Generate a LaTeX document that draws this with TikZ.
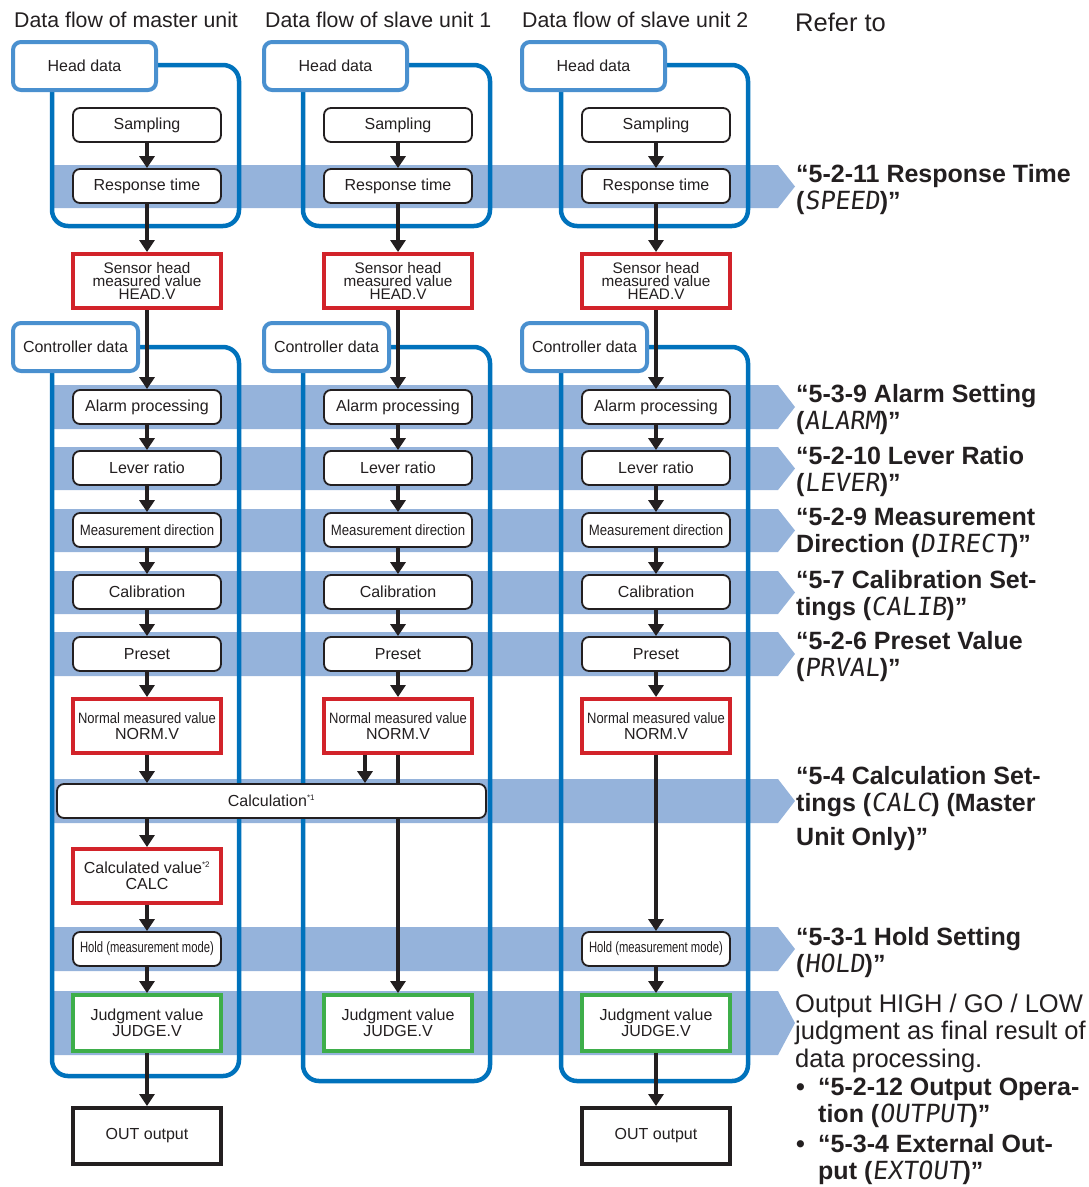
\documentclass[tikz,border=0pt]{standalone}
\usepackage{fontspec}
\setmainfont{Liberation Sans}
\newfontfamily\segfont{DejaVu Sans Mono}[FakeSlant=0.12]
\usepackage{graphicx}
\usetikzlibrary{arrows.meta,positioning,calc}
\definecolor{bandblue}{HTML}{95B3DB}
\definecolor{boxblue}{HTML}{0072BC}
\definecolor{tagblue}{HTML}{4A90CF}
\definecolor{valred}{HTML}{D2232A}
\definecolor{judgegreen}{HTML}{3EAE4A}
\definecolor{ink}{HTML}{231F20}
\newcommand{\seg}[1]{{\segfont\mdseries #1}}
\newcommand{\narrow}[2]{\scalebox{#1}[1]{#2}}
\newcommand{\refband}[2]{\fill[bandblue] (50,#1) -- (778,#1) -- (795,{(#1+#2)/2}) -- (778,#2) -- (50,#2) -- cycle;}

\begin{document}
\begin{tikzpicture}[
  x=1pt, y=-1pt, text=ink,
  font=\fontsize{16}{18}\selectfont,
  stepbox/.style={draw=ink, line width=1.8pt, rounded corners=7pt, fill=white, minimum width=148pt, minimum height=34pt, align=center, inner sep=0pt},
  valbox/.style={draw=valred, line width=4pt, fill=white, minimum width=148pt, minimum height=54pt, align=center, inner sep=0pt, font=\fontsize{15.3}{13}\selectfont},
  judgebox/.style={valbox, draw=judgegreen, minimum height=56pt},
  outbox/.style={valbox, draw=ink, minimum height=56pt, font=\fontsize{16}{18}\selectfont},
  tag/.style={draw=tagblue, line width=4pt, rounded corners=8pt, fill=white, minimum width=143pt, minimum height=48pt, inner sep=0pt},
  group/.style={draw=boxblue, line width=4.5pt, rounded corners=16pt},
  arr/.style={-{Triangle[length=12pt, width=15pt]}, line width=3.5pt, draw=ink},
  title/.style={anchor=west, inner sep=0pt, font=\fontsize{21.3}{24}\selectfont},
  ref/.style={anchor=base west, inner sep=0pt, align=left, font=\bfseries\fontsize{25}{27}\selectfont},
  smalltxt/.style={font=\fontsize{15}{16}\selectfont},
]
  \useasboundingbox (0,0) rectangle (1088,1187);

  % Titles
  \node[title] (tmaster) at (14,20) {Data flow of master unit};
  \node[title] (tslave1) at (265,20) {Data flow of slave unit 1};
  \node[title] (tslave2) at (522,20) {Data flow of slave unit 2};
  \node[title, font=\fontsize{25.5}{28}\selectfont] (trefer) at (795,22) {Refer to};

  % Bands
  \refband{165}{208}
  \refband{385}{429}
  \refband{447}{490}
  \refband{509}{552}
  \refband{571}{614}
  \refband{632}{676}
  \refband{779}{823}
  \refband{927}{971}
  \refband{991}{1055}

  % Groups
  \draw[group] (52,65) rectangle (239,226);
  \draw[group] (303,65) rectangle (490,226);
  \draw[group] (561,65) rectangle (748,226);
  \draw[group] (52,347) rectangle (239,1076);
  \draw[group] (303,347) rectangle (490,1081);
  \draw[group] (561,347) rectangle (748,1081);
  \node[tag] (mheadtag) at (84.5,66) {Head data};
  \node[tag] (s1headtag) at (335.5,66) {Head data};
  \node[tag] (s2headtag) at (593.5,66) {Head data};
  \node[tag, minimum width=125pt] (mctrltag) at (75.5,347) {Controller data};
  \node[tag, minimum width=125pt] (s1ctrltag) at (326.5,347) {Controller data};
  \node[tag, minimum width=125pt] (s2ctrltag) at (584.5,347) {Controller data};

  % Master unit
  \node[stepbox] (msamp) at (147,125) {Sampling};
  \node[stepbox] (mresp) at (147,186) {Response time};
  \node[valbox] (mhead) at (147,281) {Sensor head\\measured value\\HEAD.V};
  \node[stepbox] (malarm) at (147,407) {Alarm processing};
  \node[stepbox] (mlever) at (147,468) {Lever ratio};
  \node[stepbox, smalltxt] (mdir) at (147,530) {\narrow{0.88}{Measurement direction}};
  \node[stepbox] (mcalib) at (147,592) {Calibration};
  \node[stepbox] (mpreset) at (147,654) {Preset};
  \node[valbox, font=\fontsize{16}{16}\selectfont] (mnorm) at (147,726) {{\fontsize{15}{16}\selectfont\narrow{0.865}{Normal measured value}}\\NORM.V};
  \node[stepbox, minimum width=429pt] (calc) at (271.5,801) {Calculation\textsuperscript{\fontsize{8}{8}\selectfont *1}};
  \node[valbox, font=\fontsize{16}{16}\selectfont] (mcalcv) at (147,876) {Calculated value\textsuperscript{\fontsize{8}{8}\selectfont *2}\\CALC};
  \node[stepbox, smalltxt] (mhold) at (147,949) {\narrow{0.75}{Hold (measurement mode)}};
  \node[judgebox, font=\fontsize{16}{16}\selectfont] (mjudge) at (147,1023) {Judgment value\\JUDGE.V};
  \node[outbox] (mout) at (147,1136) {OUT output};

  % Slave unit 1
  \node[stepbox] (s1samp) at (398,125) {Sampling};
  \node[stepbox] (s1resp) at (398,186) {Response time};
  \node[valbox] (s1head) at (398,281) {Sensor head\\measured value\\HEAD.V};
  \node[stepbox] (s1alarm) at (398,407) {Alarm processing};
  \node[stepbox] (s1lever) at (398,468) {Lever ratio};
  \node[stepbox, smalltxt] (s1dir) at (398,530) {\narrow{0.88}{Measurement direction}};
  \node[stepbox] (s1calib) at (398,592) {Calibration};
  \node[stepbox] (s1preset) at (398,654) {Preset};
  \node[valbox, font=\fontsize{16}{16}\selectfont] (s1norm) at (398,726) {{\fontsize{15}{16}\selectfont\narrow{0.865}{Normal measured value}}\\NORM.V};
  \node[judgebox, font=\fontsize{16}{16}\selectfont] (s1judge) at (398,1023) {Judgment value\\JUDGE.V};

  % Slave unit 2
  \node[stepbox] (s2samp) at (656,125) {Sampling};
  \node[stepbox] (s2resp) at (656,186) {Response time};
  \node[valbox] (s2head) at (656,281) {Sensor head\\measured value\\HEAD.V};
  \node[stepbox] (s2alarm) at (656,407) {Alarm processing};
  \node[stepbox] (s2lever) at (656,468) {Lever ratio};
  \node[stepbox, smalltxt] (s2dir) at (656,530) {\narrow{0.88}{Measurement direction}};
  \node[stepbox] (s2calib) at (656,592) {Calibration};
  \node[stepbox] (s2preset) at (656,654) {Preset};
  \node[valbox, font=\fontsize{16}{16}\selectfont] (s2norm) at (656,726) {{\fontsize{15}{16}\selectfont\narrow{0.865}{Normal measured value}}\\NORM.V};
  \node[stepbox, smalltxt] (s2hold) at (656,949) {\narrow{0.75}{Hold (measurement mode)}};
  \node[judgebox, font=\fontsize{16}{16}\selectfont] (s2judge) at (656,1023) {Judgment value\\JUDGE.V};
  \node[outbox] (s2out) at (656,1136) {OUT output};

  % Edges
  \draw[arr] (msamp) -- (mresp);
  \draw[arr] (mresp) -- (mhead);
  \draw[arr] (mhead) -- (malarm);
  \draw[arr] (malarm) -- (mlever);
  \draw[arr] (mlever) -- (mdir);
  \draw[arr] (mdir) -- (mcalib);
  \draw[arr] (mcalib) -- (mpreset);
  \draw[arr] (mpreset) -- (mnorm);
  \draw[arr] (mnorm) -- (mnorm |- calc.north);
  \draw[arr] (mnorm |- calc.south) -- (mcalcv);
  \draw[arr] (mcalcv) -- (mhold);
  \draw[arr] (mhold) -- (mjudge);
  \draw[arr] (mjudge) -- (mout);

  \draw[arr] (s1samp) -- (s1resp);
  \draw[arr] (s1resp) -- (s1head);
  \draw[arr] (s1head) -- (s1alarm);
  \draw[arr] (s1alarm) -- (s1lever);
  \draw[arr] (s1lever) -- (s1dir);
  \draw[arr] (s1dir) -- (s1calib);
  \draw[arr] (s1calib) -- (s1preset);
  \draw[arr] (s1preset) -- (s1norm);
  \draw[arr] ([xshift=-33pt]s1norm.south) -- ([xshift=-33pt]s1norm.south |- calc.north);
  \draw[line width=3.5pt, ink] (s1norm.south) -- (s1norm.south |- calc.north);
  \draw[arr] (s1norm.south |- calc.south) -- (s1judge);

  \draw[arr] (s2samp) -- (s2resp);
  \draw[arr] (s2resp) -- (s2head);
  \draw[arr] (s2head) -- (s2alarm);
  \draw[arr] (s2alarm) -- (s2lever);
  \draw[arr] (s2lever) -- (s2dir);
  \draw[arr] (s2dir) -- (s2calib);
  \draw[arr] (s2calib) -- (s2preset);
  \draw[arr] (s2preset) -- (s2norm);
  \draw[arr] (s2norm) -- (s2hold);
  \draw[arr] (s2hold) -- (s2judge);
  \draw[arr] (s2judge) -- (s2out);

  % References (anchored at the last line)
  \node[ref] (rresp) at (796,209) {“5-2-11 Response Time\\(\seg{SPEED})”};
  \node[ref] (ralarm) at (796,429) {“5-3-9 Alarm Setting\\(\seg{ALARM})”};
  \node[ref] (rlever) at (796,491) {“5-2-10 Lever Ratio\\(\seg{LEVER})”};
  \node[ref] (rdir) at (796,552) {“5-2-9 Measurement\\Direction (\seg{DIRECT})”};
  \node[ref] (rcalib) at (796,615) {“5-7 Calibration Set-\\tings (\seg{CALIB})”};
  \node[ref] (rpreset) at (796,676) {“5-2-6 Preset Value\\(\seg{PRVAL})”};
  \node[ref] (rcalc) at (796,845) {“5-4 Calculation Set-\\tings (\seg{CALC}) (Master\\[7pt]Unit Only)”};
  \node[ref] (rhold) at (796,972) {“5-3-1 Hold Setting\\(\seg{HOLD})”};
  \node[ref, font=\fontsize{25.5}{27.5}\selectfont] (rjudge) at (795,1067) {Output HIGH / GO / LOW\\judgment as final result of\\data processing.};
  \node[ref] (rout1) at (796,1122) {\makebox[22pt][l]{•}“5-2-12 Output Opera-\\\hspace*{22pt}tion (\seg{OUTPUT})”};
  \node[ref] (rout2) at (796,1179) {\makebox[22pt][l]{•}“5-3-4 External Out-\\\hspace*{22pt}put (\seg{EXTOUT})”};
\end{tikzpicture}
\end{document}
